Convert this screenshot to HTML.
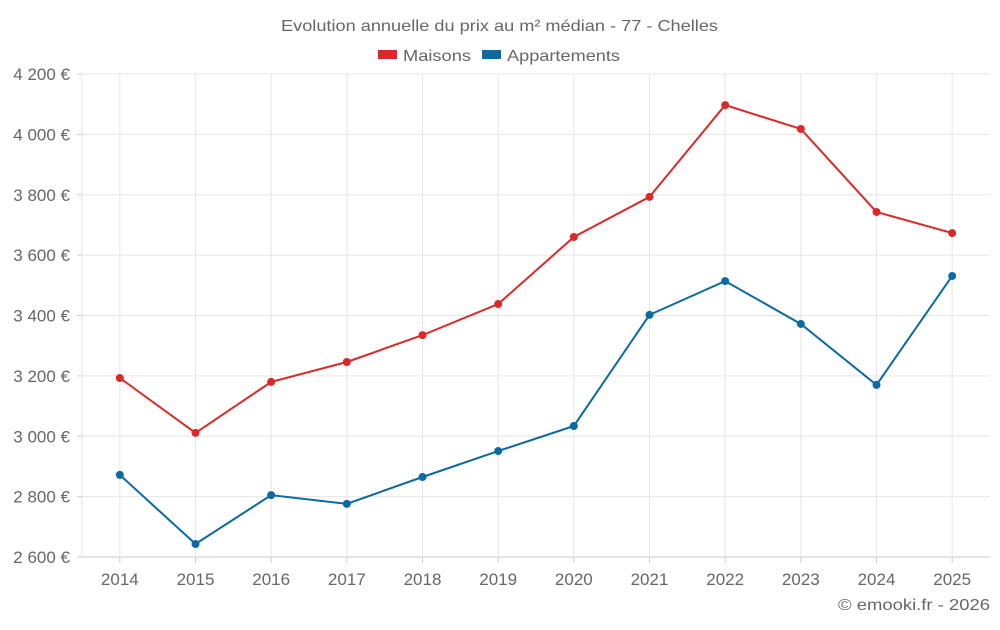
<!DOCTYPE html>
<html><head><meta charset="utf-8"><style>
body{margin:0;background:#fff;font-family:"Liberation Sans",sans-serif;}
svg text{font-family:"Liberation Sans",sans-serif;}
</style></head><body>
<svg id="c" width="1000" height="625">
<text x="281" y="31" textLength="437" lengthAdjust="spacingAndGlyphs" font-size="16" fill="#666">Evolution annuelle du prix au m² médian - 77 - Chelles</text>
<g><rect x="378" y="50" width="19" height="9" fill="#dc2828"/><text x="403" y="61" textLength="68" lengthAdjust="spacingAndGlyphs" font-size="16" fill="#666">Maisons</text></g>
<g><rect x="482" y="50" width="19" height="9" fill="#0a6aa1"/><text x="507" y="61" textLength="113" lengthAdjust="spacingAndGlyphs" font-size="16" fill="#666">Appartements</text></g>
<text x="838" y="610" textLength="152" lengthAdjust="spacingAndGlyphs" font-size="16" fill="#666">© emooki.fr - 2026</text>
<g id="grid"></g><g id="axes"></g><g id="series"></g>
</svg>
<script>
const categories=["2014","2015","2016","2017","2018","2019","2020","2021","2022","2023","2024","2025"];
const maisons=[3193,3011,3180,3246,3335,3438,3660,3793,4097,4018,3743,3673];
const appartements=[2872,2643,2805,2776,2865,2951,3034,3402,3514,3372,3170,3531];
const yTicks=[2600,2800,3000,3200,3400,3600,3800,4000,4200];
const L=82,R=990,T=74,B=557,yMin=2600,yMax=4200;
const step=(R-L)/categories.length;
const x=i=>L+step*(i+0.5);
const y=v=>B-(v-yMin)/(yMax-yMin)*(B-T);
const NS="http://www.w3.org/2000/svg";
function mk(p,tag,a){const e=document.createElementNS(NS,tag);for(const k in a)e.setAttribute(k,a[k]);p.appendChild(e);return e;}
const g=document.getElementById('grid'),ax=document.getElementById('axes'),s=document.getElementById('series');
yTicks.forEach(v=>{
 const l=mk(g,'line',{x1:L,x2:R,y1:y(v),y2:y(v),stroke:v===yMin?'#ccc':'#e6e6e6','stroke-width':1});
 
 
 mk(ax,'line',{x1:L-5,x2:L,y1:y(v),y2:y(v),stroke:'#ccc'});
 const t=mk(ax,'text',{x:70,y:y(v)+6,'text-anchor':'end','font-size':17,fill:'#666'});
 t.textContent=String(v).replace(/\B(?=(\d{3})+$)/,' ')+' €';
 
 
});
categories.forEach((c,i)=>{
 const l=mk(g,'line',{x1:x(i),x2:x(i),y1:T,y2:B,stroke:'#e6e6e6'});
 
 
 mk(ax,'line',{x1:x(i),x2:x(i),y1:B,y2:B+6,stroke:'#ccc'});
 const t=mk(ax,'text',{x:x(i),y:585,'text-anchor':'middle','font-size':17,fill:'#666'});
 t.textContent=c;
 
 
});
mk(ax,'line',{x1:L,x2:L,y1:T,y2:B,stroke:'#e6e6e6'});
[[maisons,'#dc2828','maisons'],[appartements,'#0a6aa1','appartements']].forEach(([d,col,n])=>{
 const p=mk(s,'polyline',{points:d.map((v,i)=>x(i)+','+y(v)).join(' '),fill:'none',stroke:col,'stroke-width':2});
 
 
 d.forEach((v,i)=>{
  const c=mk(s,'circle',{cx:x(i),cy:y(v),r:4,fill:col});
  
  
 });
});
</script>
</body></html>
